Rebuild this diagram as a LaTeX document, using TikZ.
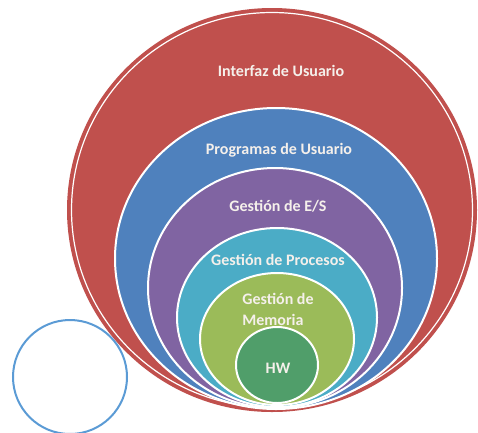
\documentclass[tikz,border=0pt]{standalone}
\usepackage{fontspec}
\setmainfont{Carlito}
\definecolor{redc}{RGB}{192,80,77}
\definecolor{bluec}{RGB}{79,129,189}
\definecolor{purplec}{RGB}{128,100,162}
\definecolor{cyanc}{RGB}{75,172,198}
\definecolor{greenc}{RGB}{155,187,89}
\definecolor{hwc}{RGB}{80,158,106}
\definecolor{ringc}{RGB}{91,155,213}
\definecolor{txtc}{RGB}{245,240,235}
\begin{document}
\begin{tikzpicture}[x=1pt,y=-1pt,
  layer/.style={draw=white,line width=2pt},
  lbl/.style={text=txtc,font=\bfseries\fontsize{16}{21}\selectfont,inner sep=0pt}]
\useasboundingbox (0,0) rectangle (478,432);
\fill[redc] (272,210) ellipse [x radius=205, y radius=202];
\draw[white,line width=1.2pt] (272,210) ellipse [x radius=200.5, y radius=197.5];
\filldraw[layer,fill=bluec] (276,258.5) ellipse [x radius=161, y radius=150.5];
\filldraw[layer,fill=purplec] (275,288) ellipse [x radius=127, y radius=120];
\filldraw[layer,fill=cyanc] (277,317.5) ellipse [x radius=100, y radius=89.5];
\filldraw[layer,fill=greenc] (277,339) ellipse [x radius=77, y radius=66];
\filldraw[layer,fill=hwc] (277,365) ellipse [x radius=41, y radius=38];
\node[lbl] (ui) at (281,71) {Interfaz de Usuario};
\node[lbl] (pu) at (279,150) {Programas de Usuario};
\node[lbl] (es) at (278,206) {Gestión de E/S};
\node[lbl] (gp) at (278,260) {Gestión de Procesos};
\node[lbl,align=left] (gm) at (278,309.5) {Gestión de\\Memoria};
\node[lbl] (hw) at (278,368) {HW};
\draw[ringc,line width=2pt] (70,377) circle (57);
\end{tikzpicture}
\end{document}
